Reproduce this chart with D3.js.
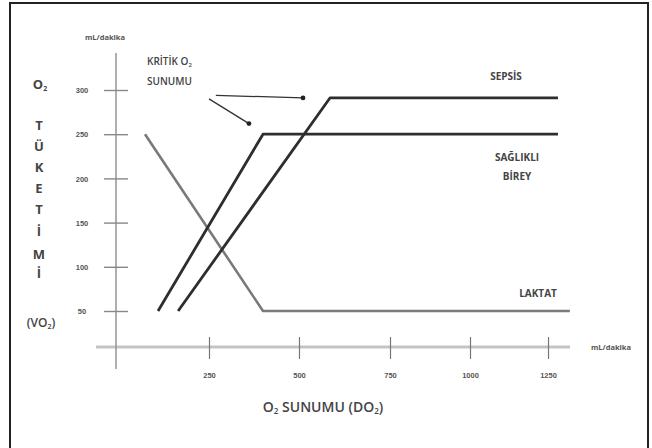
<!DOCTYPE html>
<html><head><meta charset="utf-8">
<script src="https://cdn.jsdelivr.net/npm/d3@7"></script>
<style>
html,body{margin:0;padding:0;background:#fff;}
svg{display:block;font-family:"Open Sans","Liberation Sans",sans-serif;}
</style></head>
<body><svg id="c" width="652" height="448"></svg>
<script>
// ---- data ----
const xTicks = [250, 500, 750, 1000, 1250];
const yTicks = [50, 100, 150, 200, 250, 300];
const laktat   = [[78, 250], [400, 50], [1320, 50]];
const saglikli = [[113, 50], [400, 250], [1282, 250]];
const sepsis   = [[167, 50], [585, 291], [1282, 291]];
const arrows = [
  {from: [269, 294], to: [511, 291]},
  {from: [250, 290], to: [361, 262]}
];
const yLetters = ["T", "Ü", "K", "E", "T", "İ", "M", "İ"];
const unitLabel = "mL/dakika";
const seriesLabels = [
  {lines: ["SEPSİS"]},
  {lines: ["SAĞLIKLI", "BİREY"]},
  {lines: ["LAKTAT"]}
];

// ---- layout ----
const svg = d3.select("#c");
const x = d3.scaleLinear().domain([0, 250, 500, 750, 1000, 1250]).range([116, 209, 299, 390, 470, 548]);
const y = d3.scaleLinear().domain([50, 300]).range([311, 90]);
const axisY = 347;

// frame
svg.append("rect").attr("x", 10).attr("y", 3).attr("width", 638).attr("height", 460)
  .attr("fill", "none").attr("stroke", "#222").attr("stroke-width", 2);

// x axis line
svg.append("line").attr("x1", 96).attr("x2", 570).attr("y1", axisY).attr("y2", axisY)
  .attr("stroke", "#c4c4c4").attr("stroke-width", 3);
// y axis line
svg.append("line").attr("x1", x(0)).attr("x2", x(0)).attr("y1", 53).attr("y2", 369)
  .attr("stroke", "#9a9a9a").attr("stroke-width", 1.6);

// x ticks
const xa = svg.append("g").attr("transform", `translate(0,${axisY})`)
  .call(d3.axisBottom(x).tickValues(xTicks).tickSize(0).tickPadding(0).tickFormat(d3.format("d")));
xa.select(".domain").remove();
xa.selectAll(".tick text").remove();
xa.selectAll(".tick").append("line").attr("y1", -10).attr("y2", 12).attr("stroke", "#777").attr("stroke-width", 1.2);
xa.selectAll(".tick").append("text").attr("y", 31).attr("text-anchor", "middle")
  .attr("font-size", 7.5).attr("font-weight", 700).attr("fill", "#555").text(d => d);

// y ticks
const ya = svg.append("g").attr("transform", `translate(${x(0)},0)`)
  .call(d3.axisLeft(y).tickValues(yTicks).tickSize(0).tickPadding(0));
ya.select(".domain").remove();
ya.selectAll(".tick text").remove();
ya.selectAll(".tick").append("line").attr("x1", -12).attr("x2", 12).attr("stroke", "#888").attr("stroke-width", 1.4);
ya.selectAll(".tick").append("text").attr("x", -34).attr("dy", "0.35em").attr("text-anchor", "middle")
  .attr("font-size", 7.5).attr("font-weight", 700).attr("fill", "#555").text(d => d);

// unit labels
svg.append("text").attr("x", 105).attr("y", 40).attr("text-anchor", "middle")
  .attr("font-size", 7.5).attr("font-weight", 700).attr("fill", "#555").text(unitLabel);
svg.append("text").attr("x", 611).attr("y", 350).attr("text-anchor", "middle")
  .attr("font-size", 7.5).attr("font-weight", 700).attr("fill", "#555").text(unitLabel);

// lines
const line = d3.line().x(d => x(d[0])).y(d => y(d[1]));
svg.append("path").datum(laktat).attr("d", line).attr("fill", "none")
  .attr("stroke", "#7a7a7a").attr("stroke-width", 2.6).attr("stroke-linejoin", "round");
svg.append("path").datum(saglikli).attr("d", line).attr("fill", "none")
  .attr("stroke", "#2e2e2e").attr("stroke-width", 2.8).attr("stroke-linejoin", "round");
svg.append("path").datum(sepsis).attr("d", line).attr("fill", "none")
  .attr("stroke", "#2e2e2e").attr("stroke-width", 2.8).attr("stroke-linejoin", "round");

// arrows
arrows.forEach(a => {
  svg.append("line").attr("x1", x(a.from[0])).attr("y1", y(a.from[1]))
    .attr("x2", x(a.to[0])).attr("y2", y(a.to[1])).attr("stroke", "#333").attr("stroke-width", 1.3);
  svg.append("circle").attr("cx", x(a.to[0])).attr("cy", y(a.to[1])).attr("r", 2.4).attr("fill", "#222");
});

// annotation text
const ann = svg.append("text").attr("font-size", 10).attr("font-weight", 600).attr("fill", "#444");
ann.append("tspan").attr("x", 147).attr("y", 65).text("KRİTİK O");
ann.append("tspan").attr("font-size", 6).attr("dy", 2).text("2");
svg.append("text").attr("x", 147).attr("y", 85).attr("font-size", 10).attr("font-weight", 600)
  .attr("fill", "#444").text("SUNUMU");

// series labels
const slPos = [[506, [80]], [517, [161, 180]], [538, [297]]];
seriesLabels.forEach((s, i) => {
  s.lines.forEach((t, j) => {
    svg.append("text").attr("x", slPos[i][0]).attr("y", slPos[i][1][j]).attr("text-anchor", "middle")
      .attr("font-size", 10).attr("font-weight", 700).attr("fill", "#444").text(t);
  });
});

// y-axis title letters
const yl = svg.append("text").attr("x", 40).attr("y", 89).attr("text-anchor", "middle")
  .attr("font-size", 13).attr("font-weight", 700).attr("fill", "#444");
yl.append("tspan").text("O");
yl.append("tspan").attr("font-size", 7).attr("dy", 2).text("2");
const letterY = [125, 146, 167, 188, 209, 231, 254, 273];
yLetters.forEach((t, i) => {
  svg.append("text").attr("x", 39).attr("y", letterY[i] + 5).attr("text-anchor", "middle")
    .attr("font-size", 13).attr("font-weight", 700).attr("fill", "#444").text(t);
});
const vo = svg.append("text").attr("x", 41).attr("y", 327).attr("text-anchor", "middle")
  .attr("font-size", 12).attr("font-weight", 600).attr("fill", "#444");
vo.append("tspan").text("(VO");
vo.append("tspan").attr("font-size", 7).attr("dy", 2).text("2");
vo.append("tspan").attr("dy", -2).text(")");

// x-axis title
const xt = svg.append("text").attr("x", 323).attr("y", 412).attr("text-anchor", "middle")
  .attr("font-size", 14).attr("font-weight", 600).attr("fill", "#444");
xt.append("tspan").text("O");
xt.append("tspan").attr("font-size", 8).attr("dy", 2).text("2");
xt.append("tspan").attr("dy", -2).text(" SUNUMU (DO");
xt.append("tspan").attr("font-size", 8).attr("dy", 2).text("2");
xt.append("tspan").attr("dy", -2).text(")");
</script></body></html>
